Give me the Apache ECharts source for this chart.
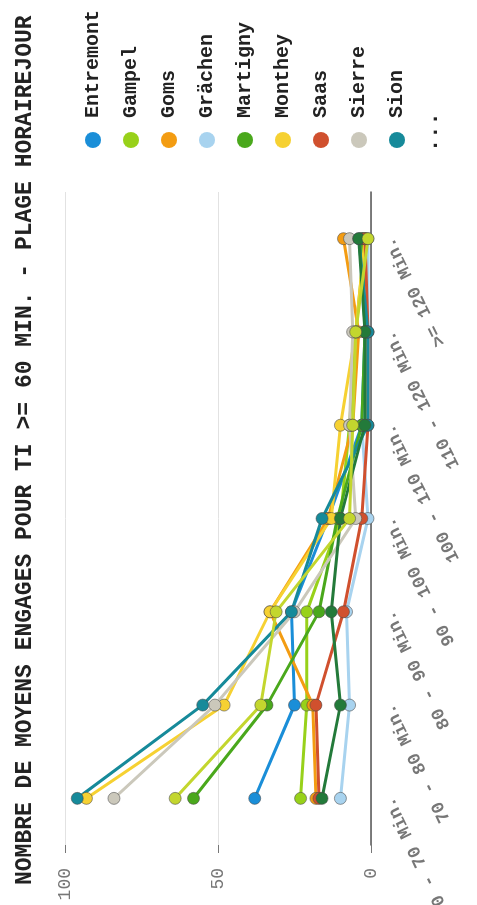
<!DOCTYPE html>
<html><head><meta charset="utf-8">
<script src="https://cdn.jsdelivr.net/npm/echarts@6/dist/echarts.min.js"></script>
<style>
html,body{margin:0;padding:0;width:477px;height:905px;overflow:hidden;background:#fff;}
#chart{position:absolute;left:0;top:0;width:905px;height:477px;transform-origin:0 0;transform:translate(0,905px) rotate(-90deg);}
</style></head><body><div id="chart"></div>
<script>
const titleText = 'NOMBRE DE MOYENS ENGAGES POUR TI >= 60 MIN. - PLAGE HORAIREJOUR';
const categories = ['60 - 70 Min.', '70 - 80 Min.', '80 - 90 Min.', '90 - 100 Min.', '100 - 110 Min.', '110 - 120 Min.', '>= 120 Min.'];
const legendNames = ['Entremont', 'Gampel', 'Goms', 'Grächen', 'Martigny', 'Monthey', 'Saas', 'Sierre', 'Sion'];
const seriesNames = ['Entremont', 'Gampel', 'Goms', 'Grächen', 'Martigny', 'Monthey', 'Saas', 'Sierre', 'Sion', 'Visp', 'Zermatt'];
const entremont = [38, 25, 26, 14, 3, 2, 3];
const gampel    = [23, 21, 21, 10, 7, 5, 2];
const goms      = [18, 19, 33, 14, 6, 4, 9];
const grachen   = [10, 7, 8, 1, 3, 1, 1];
const martigny  = [58, 34, 17, 11, 3, 2, 3];
const monthey   = [93, 48, 33, 13, 10, 5, 2];
const saas      = [17, 18, 9, 3, 1, 1, 2];
const sierre    = [84, 51, 25, 5, 7, 6, 7];
const sion      = [96, 55, 26, 16, 1, 1, 4];
const visp      = [16, 10, 13, 10, 2, 2, 4];
const zermatt   = [64, 36, 31, 7, 6, 5, 1];
const colors = ['#1a8ed8', '#98d11a', '#f39c12', '#a8d3ef', '#4aa81c', '#f6d132', '#d0502e', '#cbc8bb', '#168a9a', '#237a3a', '#c3d62e'];
const allData = [entremont, gampel, goms, grachen, martigny, monthey, saas, sierre, sion, visp, zermatt];

const chart = echarts.init(document.getElementById('chart'), null, {renderer: 'canvas'});
const FONT = '"Liberation Mono", "DejaVu Sans Mono", monospace';
chart.setOption({
  animation: false,
  color: colors,
  textStyle: {fontFamily: FONT},
  title: {
    text: titleText, left: 15, top: 9,
    textStyle: {fontFamily: FONT, fontSize: 23, fontWeight: 'bold', color: '#222'}
  },
  legend: {
    data: legendNames, orient: 'vertical', left: 752, top: 78,
    icon: 'circle', itemWidth: 16, itemHeight: 16, itemGap: 18,
    itemStyle: {borderWidth: 0},
    textStyle: {fontFamily: FONT, fontSize: 20, fontWeight: 'bold', color: '#222', padding: [0, 0, 0, 9]}
  },
  graphic: [{
    type: 'text', left: 753, top: 420,
    style: {text: '...', fontFamily: FONT, fontSize: 22, fontWeight: 'bold', fill: '#222'}
  }],
  grid: {left: 60, right: 192, top: 65, bottom: 106, containLabel: false, outerBoundsMode: 'none'},
  xAxis: {
    type: 'category', data: categories, boundaryGap: true,
    axisLine: {lineStyle: {color: '#555', width: 1.5}},
    axisTick: {alignWithLabel: true, length: 8, lineStyle: {color: '#555'}},
    axisLabel: {rotate: 26, margin: 18, fontFamily: FONT, fontSize: 18, color: '#777', fontWeight: 'bold', interval: 0}
  },
  yAxis: {
    type: 'value', min: 0, max: 100, interval: 50,
    axisLine: {show: false},
    axisTick: {show: true, length: 8, lineStyle: {color: '#777'}},
    axisLabel: {margin: 23, fontFamily: FONT, fontSize: 18, color: '#777'},
    splitLine: {lineStyle: {color: '#e2e2e2', width: 1}}
  },
  series: seriesNames.map((n, i) => ({
    name: n, type: 'line', data: allData[i],
    symbol: 'circle', symbolSize: 12,
    lineStyle: {width: 3},
    itemStyle: {borderColor: 'rgba(70,70,70,0.55)', borderWidth: 1}
  }))
});
</script></body></html>
